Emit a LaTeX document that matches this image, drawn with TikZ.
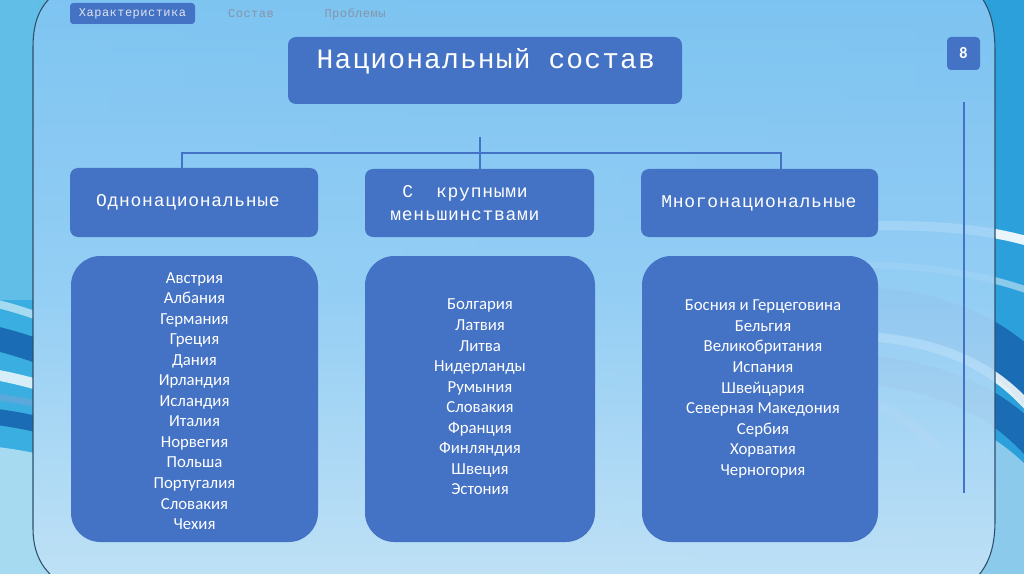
\documentclass[tikz,border=0pt]{standalone}
\usepackage{fontspec}
\setmainfont{Carlito}
\newfontfamily\monof{Liberation Mono}[LetterSpace=4]
\usetikzlibrary{calc}
\definecolor{boxblue}{HTML}{4472C4}
\definecolor{outerL}{HTML}{3AAEE0}
\definecolor{outerR}{HTML}{2CA0DA}
\definecolor{paneltop}{HTML}{86C7F4}
\definecolor{panelmid}{HTML}{9ED2F7}
\definecolor{panelbot}{HTML}{CDE7F8}
\definecolor{swdark}{HTML}{1A6DB5}
\definecolor{swmid}{HTML}{5BA8DC}
\definecolor{bordercol}{HTML}{2D4F6B}
\definecolor{navgray}{HTML}{8494AA}
\definecolor{navlight}{HTML}{DCE4F0}
\tikzset{
  hbox/.style={fill=boxblue, rounded corners=6pt, inner sep=0pt, text=white},
  lbox/.style={fill=boxblue, rounded corners=22pt, inner sep=0pt},
  listtxt/.style={text=white, align=center, font=\fontsize{12.6pt}{15.4pt}\selectfont, inner sep=0pt},
  hdrtxt/.style={text=white, align=center, font=\monof\fontsize{13.5pt}{17.25pt}\selectfont},
  navtxt/.style={font=\monof\fontsize{9pt}{10pt}\selectfont},
  conn/.style={draw=boxblue, line width=2.2pt},
}
\begin{document}
\begin{tikzpicture}[x=0.75pt,y=-0.75pt]
\useasboundingbox (0,0) rectangle (1024,574);
% outer background
\shade[left color=outerL, right color=outerR] (0,0) rectangle (1024,574);
% left swooshes (only in the outer strip)
\begin{scope}
\clip (-2,-2) -- (50,-2) .. controls (38,10) and (33,25) .. (33,48) -- (33,528)
  .. controls (33,550) and (40,565) .. (52,576) -- (-2,576) -- cycle;
\fill[white, opacity=0.2] (-2,-2) rectangle (60,300);
\draw[white, line width=6pt, opacity=0.55] (-20,300) .. controls (30,310) and (80,330) .. (140,365);
\draw[swdark, line width=18pt] (-20,335) .. controls (30,345) and (80,365) .. (140,400);
\draw[white, line width=8pt, opacity=0.8] (-20,372) .. controls (30,380) and (80,395) .. (140,425);
\draw[swmid, line width=5pt] (-20,395) .. controls (30,400) and (80,412) .. (140,440);
\draw[swdark, line width=12pt] (-20,415) .. controls (30,420) and (80,432) .. (140,460);
\fill[white, opacity=0.55] (-20,445) .. controls (30,450) and (80,460) .. (140,490) -- (140,576) -- (-20,576) -- cycle;
\end{scope}
% right swooshes
\draw[white, line width=7pt, opacity=0.9] (820,228) .. controls (920,222) and (990,228) .. (1040,245);
\draw[white, line width=5pt, opacity=0.45] (820,265) .. controls (920,262) and (990,275) .. (1040,295);
\draw[swdark, line width=34pt] (850,310) .. controls (940,310) and (1000,340) .. (1040,390);
\draw[white, line width=7pt, opacity=0.85] (850,335) .. controls (950,340) and (1000,370) .. (1040,420);
\draw[swdark, line width=22pt] (870,370) .. controls (960,380) and (1005,410) .. (1040,450);
\draw[swmid, line width=8pt, line cap=round] (850,395) .. controls (890,408) and (915,425) .. (935,445);
\begin{scope}
\clip (1026,-2) -- (982,-2) .. controls (990,10) and (995,25) .. (995,52) -- (995,520)
  .. controls (995,545) and (990,562) .. (978,576) -- (1026,576) -- cycle;
\fill[white, opacity=0.45] (870,400) .. controls (960,410) and (1005,440) .. (1040,480) -- (1040,576) -- (870,576) -- cycle;
\end{scope}
% panel
\shade[top color=paneltop, bottom color=panelbot, middle color=panelmid, opacity=0.9]
  (50,-2) .. controls (38,10) and (33,25) .. (33,48) -- (33,528)
  .. controls (33,550) and (40,565) .. (52,576) -- (978,576)
  .. controls (990,562) and (995,545) .. (995,520) -- (995,52)
  .. controls (995,25) and (990,10) .. (982,-2) -- cycle;
\draw[bordercol, line width=0.8pt] (50,-2) .. controls (38,10) and (33,25) .. (33,48) -- (33,528)
  .. controls (33,550) and (40,565) .. (52,576);
\draw[bordercol, line width=0.8pt] (982,-2) .. controls (990,10) and (995,25) .. (995,52) -- (995,520)
  .. controls (995,545) and (990,562) .. (978,576);
% navigation
\node[fill=boxblue, rounded corners=2.5pt, minimum width=125*0.75pt, minimum height=21*0.75pt, inner sep=0pt,
  text=navlight, navtxt] (nav1) at (132.5,13.5) {Характеристика};
\node[text=navgray, navtxt] (nav2) at (251,14) {Состав};
\node[text=navgray, navtxt] (nav3) at (355,14) {Проблемы};
% page number
\node[fill=boxblue, rounded corners=3pt, minimum width=33*0.75pt, minimum height=33*0.75pt, inner sep=0pt,
  text=white, font=\bfseries\fontsize{12pt}{14pt}\selectfont] (page) at (963.5,53.5) {8};
\coordinate (vtop) at (964,102);
\coordinate (vbot) at (964,493);
\draw[boxblue, line width=1.1pt] (vtop) -- (vbot);
% title
\node[hbox, minimum width=394*0.75pt, minimum height=67*0.75pt] (title) at (485,70.5) {};
\node[text=white, font=\monof\fontsize{21pt}{24pt}\selectfont, anchor=west] (titletxt) at (312,61) {Национальный состав};
% headers
\node[hbox, minimum width=248*0.75pt, minimum height=69*0.75pt] (b1) at (194,202.5) {};
\node[hdrtxt] (b1t) at (188,202.5) {Однонациональные};
\node[hbox, minimum width=229*0.75pt, minimum height=68*0.75pt] (b2) at (479.5,203) {};
\node[hdrtxt] (b2t) at (465,203) {С\ \ крупными\\меньшинствами};
\node[hbox, minimum width=237*0.75pt, minimum height=68*0.75pt] (b3) at (759.5,203) {};
\node[hdrtxt] (b3t) at (759,203) {Многонациональные};
% connectors
\coordinate (ctop) at (480,137);
\coordinate (hl) at (182,153);
\coordinate (hr) at (781,153);
\draw[conn] (ctop) -- (b2.north -| ctop);
\draw[conn] (b1.north -| hl) -- (hl) -- (hr) -- (b3.north -| hr);
% list boxes
\node[lbox, minimum width=247*0.75pt, minimum height=286*0.75pt] (l1) at (194.5,399) {};
\node[listtxt] (l1t) at (194.5,401) {Австрия\\Албания\\Германия\\Греция\\Дания\\Ирландия\\Исландия\\Италия\\Норвегия\\Польша\\Португалия\\Словакия\\Чехия};
\node[lbox, minimum width=230*0.75pt, minimum height=286*0.75pt] (l2) at (480,399) {};
\node[listtxt] (l2t) at (480,397) {Болгария\\Латвия\\Литва\\Нидерланды\\Румыния\\Словакия\\Франция\\Финляндия\\Швеция\\Эстония};
\node[lbox, minimum width=236*0.75pt, minimum height=286*0.75pt] (l3) at (760,399) {};
\node[listtxt] (l3t) at (763,389) {Босния и Герцеговина\\Бельгия\\Великобритания\\Испания\\Швейцария\\Северная Македония\\Сербия\\Хорватия\\Черногория};
\end{tikzpicture}
\end{document}
